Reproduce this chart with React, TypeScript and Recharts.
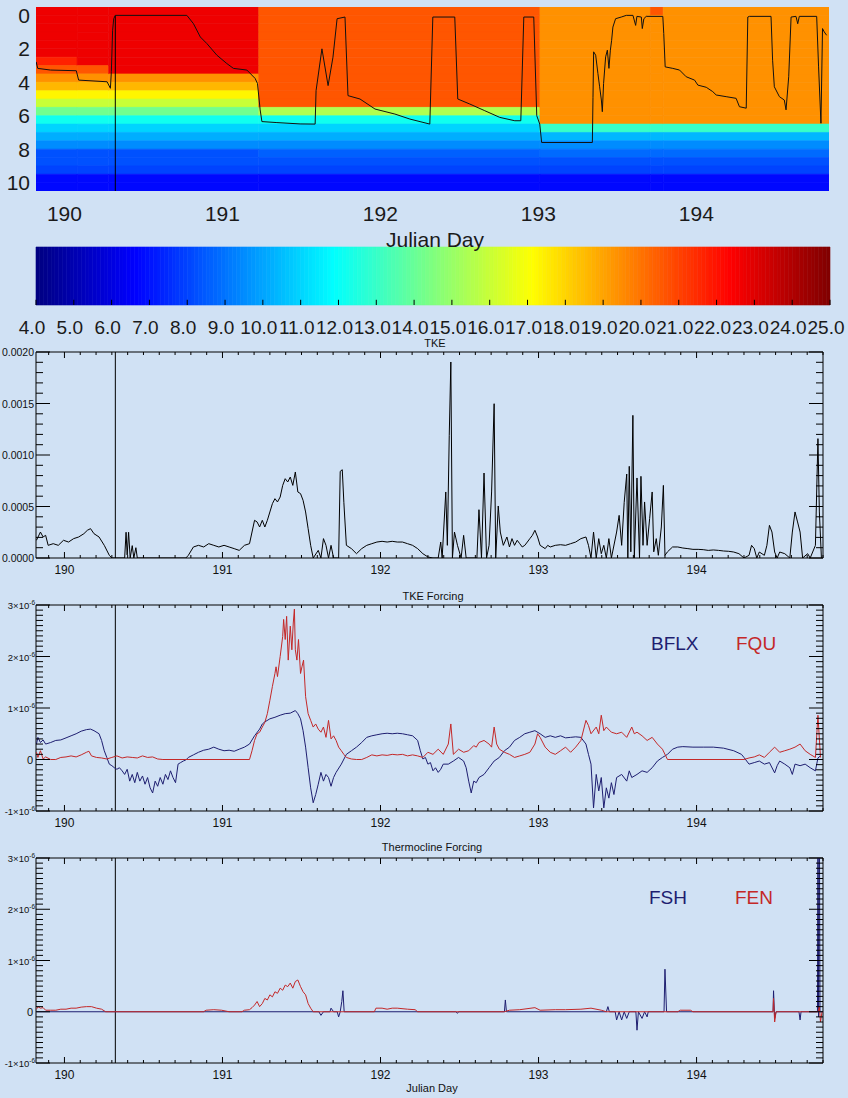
import React from 'react';
import { ComposedChart, LineChart, Line, XAxis, YAxis, ReferenceArea, ReferenceLine } from 'recharts';

const FONT = '"Liberation Sans", Arial, Helvetica, sans-serif';
const BG = '#d0e1f4';
const NAVY = '#1e1e70';
const RED = '#c42828';

// ---------- Top panel: temperature section ----------
const dayTicks = [190, 191, 192, 193, 194];
const depthTicks = [0, 2, 4, 6, 8, 10];
const depthEdges = [-0.5, 0, 0.5, 1, 1.5, 2, 2.5, 3, 3.5, 4, 4.5, 5, 5.5, 6, 6.5, 7, 7.5, 8, 8.5, 9, 9.5, 10, 10.5];
const segStart = [189.82, 190.08, 190.28, 191.23, 193.01, 193.71, 193.79];
const segEnd = [190.08, 190.28, 191.23, 193.01, 193.71, 193.79, 194.84];
const segTemps = [
  [22.7, 22.7, 22.7, 22.7, 22.7, 22.7, 21.7, 20.6, 19.4, 18.6, 17.3, 16.0, 14.2, 12.2, 11.0, 10.2, 9.5, 8.3, 8.3, 8.0, 6.8, 6.8],
  [22.7, 22.7, 22.7, 22.7, 22.7, 22.7, 22.7, 20.6, 19.4, 18.6, 17.3, 16.0, 14.2, 12.2, 11.0, 10.2, 9.5, 8.3, 8.3, 8.0, 6.8, 6.8],
  [22.7, 22.7, 22.7, 22.7, 22.7, 22.7, 22.7, 22.7, 19.4, 18.6, 17.3, 16.0, 14.2, 12.2, 11.0, 10.2, 9.5, 8.3, 8.3, 8.0, 6.8, 6.8],
  [20.6, 20.6, 20.6, 20.6, 20.6, 20.6, 20.6, 20.6, 20.6, 20.6, 20.6, 20.6, 15.5, 12.2, 11.0, 10.2, 9.5, 8.6, 8.3, 8.0, 6.8, 6.8],
  [19.4, 19.4, 19.4, 19.4, 19.4, 19.4, 19.4, 19.4, 19.4, 19.4, 19.4, 19.4, 19.4, 19.4, 13.0, 10.4, 9.5, 8.8, 8.3, 8.0, 6.8, 6.8],
  [20.6, 19.4, 19.4, 19.4, 19.4, 19.4, 19.4, 19.4, 19.4, 19.4, 19.4, 19.4, 19.4, 19.4, 13.0, 10.4, 9.5, 8.8, 8.3, 8.0, 6.8, 6.8],
  [19.4, 19.4, 19.4, 19.4, 19.4, 19.4, 19.4, 19.4, 19.4, 19.4, 19.4, 19.4, 19.4, 19.4, 13.0, 10.4, 9.5, 8.8, 8.3, 8.0, 6.8, 6.8],
];
// mixed layer depth [day, depth]
const mldPairs = [
  [189.821, 2.78], [189.831, 3.17], [189.912, 3.27], [190.075, 3.31], [190.09, 3.87], [190.27, 3.97], [190.291, 4.36], [190.297, 3.37], [190.305, 0.89], [190.312, 0.2], [190.322, 0.0], [190.775, 0.0], [190.817, 0.5], [190.86, 1.29], [190.902, 1.69], [190.965, 2.38], [191.028, 2.88], [191.07, 3.17], [191.155, 3.27], [191.207, 3.77], [191.222, 4.07], [191.239, 5.65], [191.25, 6.35], [191.345, 6.41], [191.492, 6.49], [191.587, 6.5], [191.593, 4.5], [191.63, 2.0], [191.669, 4.2], [191.7, 2.5], [191.726, 0.2], [191.776, 0.1], [191.795, 4.8], [191.871, 5.0], [191.966, 5.6], [192.092, 5.9], [192.187, 6.2], [192.313, 6.5], [192.332, 0.1], [192.471, 0.1], [192.49, 5.0], [192.566, 5.3], [192.661, 5.7], [192.756, 6.1], [192.851, 6.3], [192.889, 6.3], [192.908, 0.1], [192.971, 0.1], [192.99, 6.0], [193.009, 6.5], [193.021, 7.6], [193.342, 7.6], [193.346, 4.9], [193.35, 2.18], [193.363, 2.38], [193.377, 3.47], [193.388, 4.27], [193.399, 5.06], [193.405, 5.76], [193.413, 4.07], [193.426, 2.48], [193.437, 2.08], [193.447, 3.17], [193.456, 2.08], [193.464, 1.49], [193.472, 0.7], [193.489, 0.2], [193.525, 0.1], [193.557, 0], [193.599, 0], [193.616, 0.6], [193.624, 0.06], [193.652, 0.1], [193.658, 0.79], [193.668, 0.2], [193.683, 0.06], [193.788, 0.06], [193.794, 1.09], [193.803, 3.08], [193.851, 3.17], [193.894, 3.27], [193.936, 3.67], [193.989, 3.87], [194.01, 4.17], [194.063, 4.3], [194.104, 4.56], [194.126, 4.76], [194.189, 4.86], [194.252, 4.96], [194.273, 5.46], [194.316, 5.55], [194.326, 0.1], [194.336, 0.06], [194.473, 0.06], [194.483, 2.68], [194.494, 4.27], [194.526, 4.86], [194.557, 5.06], [194.568, 5.65], [194.585, 3.67], [194.6, 0.1], [194.631, 0.06], [194.642, 0.5], [194.652, 0.06], [194.762, 0.06], [194.774, 3.08], [194.789, 6.45], [194.799, 0.79], [194.81, 0.99], [194.825, 1.19],
];
const markerDay = 190.322;

// ---------- Colour bar ----------
const colorTicks = [4, 5, 6, 7, 8, 9, 10, 11, 12, 13, 14, 15, 16, 17, 18, 19, 20, 21, 22, 23, 24, 25];

// ---------- TKE [day, value] ----------
const tkePairs = [
  [189.823, 1.72e-4], [189.848, 2.52e-4], [189.865, 2.04e-4], [189.881, 2.2e-4], [189.897, 1.23e-4], [189.929, 1.39e-4], [189.961, 1.23e-4], [189.994, 1.72e-4], [190.026, 1.55e-4], [190.058, 1.88e-4], [190.09, 2.04e-4], [190.123, 2.36e-4], [190.145, 2.69e-4], [190.165, 2.85e-4], [190.187, 2.36e-4], [190.219, 2.04e-4], [190.252, 1.23e-4], [190.284, 0.26e-4], [190.3, 0], [190.381, 0], [190.39, 2.5e-4], [190.397, 0.3e-4], [190.406, 2.5e-4], [190.416, 0], [190.429, 1.2e-4], [190.439, 0], [190.452, 1.0e-4], [190.461, 0], [190.768, 0], [190.784, 0.26e-4], [190.816, 1.07e-4], [190.848, 1.23e-4], [190.881, 1.07e-4], [190.913, 1.39e-4], [190.945, 1.23e-4], [190.977, 1.07e-4], [191.01, 1.23e-4], [191.042, 1.07e-4], [191.074, 0.91e-4], [191.106, 0.74e-4], [191.139, 1.23e-4], [191.171, 1.39e-4], [191.203, 3.66e-4], [191.219, 3.5e-4], [191.235, 3.01e-4], [191.252, 3.66e-4], [191.268, 3.01e-4], [191.284, 3.66e-4], [191.3, 4.47e-4], [191.316, 5.28e-4], [191.332, 5.76e-4], [191.348, 5.44e-4], [191.365, 5.92e-4], [191.381, 7.05e-4], [191.397, 7.7e-4], [191.413, 7.38e-4], [191.429, 7.86e-4], [191.445, 7.05e-4], [191.461, 8.35e-4], [191.477, 6.41e-4], [191.494, 6.25e-4], [191.51, 5.6e-4], [191.526, 4.47e-4], [191.542, 2.85e-4], [191.558, 1.23e-4], [191.574, 0], [191.606, 0.74e-4], [191.623, 0], [191.639, 1.88e-4], [191.655, 1.23e-4], [191.671, 0], [191.687, 1.23e-4], [191.703, 0], [191.735, 0], [191.745, 8.41e-4], [191.758, 8.57e-4], [191.768, 5.41e-4], [191.784, 1.23e-4], [191.816, 0.91e-4], [191.848, 0.42e-4], [191.881, 0.91e-4], [191.913, 1.23e-4], [191.945, 1.39e-4], [191.977, 1.55e-4], [192.01, 1.62e-4], [192.042, 1.55e-4], [192.074, 1.62e-4], [192.106, 1.55e-4], [192.139, 1.55e-4], [192.171, 1.39e-4], [192.203, 1.23e-4], [192.235, 0.91e-4], [192.268, 0.42e-4], [192.3, 0.1e-4], [192.332, 0], [192.365, 0], [192.381, 1.55e-4], [192.39, 0], [192.413, 6.41e-4], [192.423, 1.23e-4], [192.435, 11.91e-4], [192.445, 19.03e-4], [192.455, 0], [192.468, 2.52e-4], [192.487, 1.23e-4], [192.51, 0], [192.526, 2.2e-4], [192.542, 0], [192.61, 0], [192.623, 4.69e-4], [192.639, 0], [192.655, 8.25e-4], [192.671, 0], [192.687, 1.23e-4], [192.703, 6.41e-4], [192.719, 14.98e-4], [192.729, 0], [192.745, 5.05e-4], [192.758, 2.52e-4], [192.777, 1.23e-4], [192.8, 2.04e-4], [192.816, 1.07e-4], [192.832, 1.88e-4], [192.848, 1.23e-4], [192.865, 1.72e-4], [192.881, 1.39e-4], [192.897, 1.07e-4], [192.913, 1.23e-4], [192.929, 1.55e-4], [192.945, 1.88e-4], [192.961, 2.2e-4], [192.977, 2.69e-4], [192.994, 2.04e-4], [193.01, 1.23e-4], [193.042, 0.91e-4], [193.058, 1.23e-4], [193.074, 1.07e-4], [193.106, 1.23e-4], [193.139, 1.29e-4], [193.171, 1.23e-4], [193.203, 1.39e-4], [193.235, 1.55e-4], [193.268, 1.88e-4], [193.3, 2.04e-4], [193.316, 1.23e-4], [193.332, 0], [193.348, 2.52e-4], [193.365, 0], [193.381, 1.88e-4], [193.397, 0.42e-4], [193.413, 1.23e-4], [193.429, 0], [193.445, 1.88e-4], [193.461, 0], [193.494, 2.52e-4], [193.51, 4.14e-4], [193.526, 1.23e-4], [193.542, 5.4e-4], [193.558, 8.15e-4], [193.565, 0], [193.574, 8.9e-4], [193.584, 0.6e-4], [193.597, 13.85e-4], [193.606, 0], [193.623, 7.77e-4], [193.639, 0], [193.648, 7.93e-4], [193.661, 1.23e-4], [193.671, 5.44e-4], [193.687, 1.23e-4], [193.703, 3.82e-4], [193.719, 6.41e-4], [193.729, 0.6e-4], [193.745, 1.88e-4], [193.758, 0.26e-4], [193.777, 3.01e-4], [193.79, 7.05e-4], [193.8, 0.26e-4], [193.816, 0.6e-4], [193.848, 1.07e-4], [193.881, 1.07e-4], [193.913, 0.97e-4], [193.945, 0.91e-4], [193.977, 0.84e-4], [194.01, 0.84e-4], [194.042, 0.81e-4], [194.074, 0.74e-4], [194.106, 0.78e-4], [194.139, 0.74e-4], [194.171, 0.68e-4], [194.203, 0.65e-4], [194.235, 0.58e-4], [194.268, 0.42e-4], [194.3, 0], [194.332, 0.26e-4], [194.348, 1.23e-4], [194.365, 0.91e-4], [194.381, 0], [194.397, 0.58e-4], [194.429, 0.26e-4], [194.445, 1.23e-4], [194.461, 3.17e-4], [194.477, 2.52e-4], [194.494, 0.58e-4], [194.51, 0], [194.526, 0.58e-4], [194.558, 0.42e-4], [194.59, 0], [194.606, 2.52e-4], [194.623, 4.47e-4], [194.639, 3.5e-4], [194.655, 2.52e-4], [194.671, 0], [194.703, 0.42e-4], [194.719, 0], [194.752, 1.23e-4], [194.768, 11.59e-4], [194.777, 4.47e-4], [194.79, 0],
];

// ---------- TKE forcing [day, value] ----------
const bflxPairs = [
  [189.823, 0.30e-6], [189.832, 0.43e-6], [189.848, 0.33e-6], [189.865, 0.38e-6], [189.881, 0.30e-6], [189.913, 0.33e-6], [189.945, 0.37e-6], [189.977, 0.38e-6], [190.01, 0.42e-6], [190.042, 0.46e-6], [190.074, 0.50e-6], [190.106, 0.55e-6], [190.139, 0.58e-6], [190.165, 0.59e-6], [190.187, 0.56e-6], [190.219, 0.50e-6], [190.235, 0.37e-6], [190.252, 0.17e-6], [190.268, 0.04e-6], [190.284, -0.09e-6], [190.3, -0.12e-6], [190.316, -0.16e-6], [190.332, -0.19e-6], [190.348, -0.16e-6], [190.365, -0.22e-6], [190.381, -0.29e-6], [190.397, -0.19e-6], [190.413, -0.42e-6], [190.429, -0.29e-6], [190.445, -0.45e-6], [190.461, -0.25e-6], [190.477, -0.42e-6], [190.494, -0.32e-6], [190.51, -0.48e-6], [190.526, -0.35e-6], [190.542, -0.55e-6], [190.558, -0.65e-6], [190.574, -0.42e-6], [190.59, -0.52e-6], [190.606, -0.35e-6], [190.623, -0.48e-6], [190.639, -0.29e-6], [190.655, -0.39e-6], [190.671, -0.22e-6], [190.687, -0.35e-6], [190.703, -0.45e-6], [190.719, -0.09e-6], [190.735, -0.06e-6], [190.752, -0.03e-6], [190.768, -0.01e-6], [190.784, 0.04e-6], [190.816, 0.09e-6], [190.848, 0.14e-6], [190.881, 0.18e-6], [190.913, 0.20e-6], [190.945, 0.24e-6], [190.977, 0.20e-6], [191.01, 0.17e-6], [191.042, 0.18e-6], [191.074, 0.16e-6], [191.106, 0.20e-6], [191.139, 0.24e-6], [191.171, 0.30e-6], [191.203, 0.46e-6], [191.235, 0.59e-6], [191.252, 0.69e-6], [191.268, 0.73e-6], [191.3, 0.79e-6], [191.332, 0.82e-6], [191.365, 0.86e-6], [191.397, 0.89e-6], [191.429, 0.90e-6], [191.461, 0.95e-6], [191.477, 0.89e-6], [191.494, 0.79e-6], [191.51, 0.56e-6], [191.526, 0.24e-6], [191.542, -0.16e-6], [191.558, -0.55e-6], [191.574, -0.84e-6], [191.59, -0.68e-6], [191.606, -0.48e-6], [191.623, -0.25e-6], [191.639, -0.42e-6], [191.655, -0.29e-6], [191.671, -0.35e-6], [191.687, -0.52e-6], [191.703, -0.35e-6], [191.719, -0.25e-6], [191.752, -0.09e-6], [191.784, 0.10e-6], [191.816, 0.17e-6], [191.848, 0.24e-6], [191.881, 0.33e-6], [191.913, 0.43e-6], [191.945, 0.46e-6], [191.977, 0.48e-6], [192.01, 0.50e-6], [192.042, 0.51e-6], [192.074, 0.50e-6], [192.106, 0.51e-6], [192.139, 0.50e-6], [192.171, 0.48e-6], [192.203, 0.46e-6], [192.235, 0.37e-6], [192.252, 0.17e-6], [192.268, 0.01e-6], [192.284, 0.04e-6], [192.3, -0.09e-6], [192.316, -0.06e-6], [192.332, -0.22e-6], [192.348, -0.16e-6], [192.365, -0.25e-6], [192.381, -0.19e-6], [192.397, -0.09e-6], [192.429, -0.09e-6], [192.461, -0.03e-6], [192.494, 0.04e-6], [192.526, -0.03e-6], [192.542, -0.16e-6], [192.558, -0.42e-6], [192.574, -0.65e-6], [192.59, -0.42e-6], [192.606, -0.45e-6], [192.623, -0.35e-6], [192.655, -0.29e-6], [192.687, -0.16e-6], [192.719, -0.03e-6], [192.752, 0.04e-6], [192.784, 0.17e-6], [192.816, 0.24e-6], [192.848, 0.37e-6], [192.881, 0.43e-6], [192.913, 0.50e-6], [192.945, 0.53e-6], [192.977, 0.56e-6], [193.01, 0.50e-6], [193.042, 0.43e-6], [193.074, 0.46e-6], [193.106, 0.43e-6], [193.139, 0.46e-6], [193.171, 0.42e-6], [193.203, 0.43e-6], [193.235, 0.44e-6], [193.268, 0.43e-6], [193.3, 0.30e-6], [193.316, 0.10e-6], [193.332, -0.09e-6], [193.348, -0.94e-6], [193.365, -0.29e-6], [193.381, -0.61e-6], [193.397, -0.35e-6], [193.413, -0.94e-6], [193.429, -0.55e-6], [193.445, -0.75e-6], [193.461, -0.45e-6], [193.477, -0.68e-6], [193.494, -0.35e-6], [193.526, -0.29e-6], [193.558, -0.42e-6], [193.574, -0.22e-6], [193.59, -0.35e-6], [193.623, -0.29e-6], [193.655, -0.22e-6], [193.687, -0.25e-6], [193.719, -0.16e-6], [193.752, -0.03e-6], [193.784, 0.04e-6], [193.816, 0.10e-6], [193.848, 0.20e-6], [193.881, 0.24e-6], [193.913, 0.25e-6], [193.977, 0.24e-6], [194.042, 0.24e-6], [194.106, 0.24e-6], [194.171, 0.22e-6], [194.235, 0.17e-6], [194.284, 0.10e-6], [194.3, 0.04e-6], [194.332, -0.09e-6], [194.365, -0.06e-6], [194.397, -0.03e-6], [194.429, -0.09e-6], [194.461, -0.06e-6], [194.494, -0.26e-6], [194.51, -0.12e-6], [194.526, -0.03e-6], [194.558, -0.09e-6], [194.59, -0.16e-6], [194.606, -0.29e-6], [194.623, -0.09e-6], [194.655, -0.12e-6], [194.687, -0.09e-6], [194.719, -0.16e-6], [194.752, -0.22e-6], [194.768, 0.03e-6], [194.784, 0.07e-6],
];
const fquPairs = [
  [189.823, 0.14e-6], [189.832, 0.04e-6], [189.848, 0.17e-6], [189.865, 0.01e-6], [189.881, 0.05e-6], [189.913, 0.0], [189.945, 0.0], [189.977, 0.04e-6], [190.01, 0.05e-6], [190.042, 0.07e-6], [190.074, 0.05e-6], [190.106, 0.09e-6], [190.139, 0.14e-6], [190.155, 0.16e-6], [190.171, 0.07e-6], [190.203, 0.04e-6], [190.235, 0.03e-6], [190.268, 0.01e-6], [190.3, 0.04e-6], [190.332, 0.07e-6], [190.365, 0.03e-6], [190.397, 0.05e-6], [190.429, 0.04e-6], [190.461, 0.03e-6], [190.494, 0.07e-6], [190.526, 0.04e-6], [190.558, 0.05e-6], [190.59, 0.01e-6], [190.623, 0.0], [191.171, 0.0], [191.187, 0.17e-6], [191.203, 0.37e-6], [191.219, 0.50e-6], [191.235, 0.53e-6], [191.252, 0.63e-6], [191.268, 0.72e-6], [191.284, 0.89e-6], [191.3, 1.15e-6], [191.316, 1.42e-6], [191.332, 1.67e-6], [191.339, 1.80e-6], [191.348, 1.61e-6], [191.365, 2.00e-6], [191.381, 2.39e-6], [191.387, 2.72e-6], [191.397, 2.33e-6], [191.406, 2.78e-6], [191.416, 1.93e-6], [191.429, 2.59e-6], [191.439, 2.13e-6], [191.448, 2.65e-6], [191.455, 2.92e-6], [191.461, 2.13e-6], [191.471, 1.93e-6], [191.481, 2.33e-6], [191.494, 1.67e-6], [191.503, 1.80e-6], [191.513, 1.93e-6], [191.526, 1.22e-6], [191.542, 0.89e-6], [191.558, 0.76e-6], [191.574, 0.63e-6], [191.59, 0.69e-6], [191.606, 0.59e-6], [191.623, 0.53e-6], [191.639, 0.63e-6], [191.655, 0.43e-6], [191.671, 0.76e-6], [191.687, 0.40e-6], [191.703, 0.46e-6], [191.719, 0.37e-6], [191.735, 0.24e-6], [191.752, 0.17e-6], [191.768, 0.10e-6], [191.784, 0.04e-6], [191.816, 0.01e-6], [191.848, 0.0], [191.881, 0.0], [191.913, 0.04e-6], [191.945, 0.09e-6], [191.977, 0.07e-6], [192.01, 0.09e-6], [192.042, 0.08e-6], [192.074, 0.10e-6], [192.106, 0.09e-6], [192.139, 0.10e-6], [192.171, 0.07e-6], [192.203, 0.09e-6], [192.235, 0.07e-6], [192.268, 0.04e-6], [192.3, 0.14e-6], [192.332, 0.10e-6], [192.365, 0.20e-6], [192.397, 0.10e-6], [192.429, 0.30e-6], [192.445, 0.69e-6], [192.461, 0.10e-6], [192.494, 0.20e-6], [192.526, 0.14e-6], [192.558, 0.17e-6], [192.59, 0.27e-6], [192.606, 0.24e-6], [192.623, 0.33e-6], [192.655, 0.37e-6], [192.687, 0.30e-6], [192.703, 0.24e-6], [192.719, 0.63e-6], [192.735, 0.30e-6], [192.752, 0.20e-6], [192.784, 0.14e-6], [192.816, 0.10e-6], [192.848, 0.04e-6], [192.881, 0.07e-6], [192.913, 0.10e-6], [192.945, 0.14e-6], [192.977, 0.30e-6], [192.994, 0.50e-6], [193.01, 0.43e-6], [193.042, 0.24e-6], [193.074, 0.14e-6], [193.106, 0.10e-6], [193.139, 0.17e-6], [193.171, 0.24e-6], [193.203, 0.14e-6], [193.235, 0.24e-6], [193.268, 0.37e-6], [193.3, 0.76e-6], [193.316, 0.66e-6], [193.332, 0.50e-6], [193.365, 0.63e-6], [193.381, 0.50e-6], [193.397, 0.86e-6], [193.413, 0.56e-6], [193.429, 0.63e-6], [193.461, 0.53e-6], [193.494, 0.50e-6], [193.526, 0.53e-6], [193.558, 0.43e-6], [193.59, 0.63e-6], [193.606, 0.50e-6], [193.623, 0.53e-6], [193.655, 0.46e-6], [193.687, 0.37e-6], [193.719, 0.43e-6], [193.752, 0.30e-6], [193.784, 0.20e-6], [193.816, 0.0], [194.3, 0.0], [194.332, 0.03e-6], [194.365, 0.05e-6], [194.397, 0.09e-6], [194.429, 0.04e-6], [194.461, 0.14e-6], [194.494, 0.24e-6], [194.526, 0.14e-6], [194.558, 0.17e-6], [194.59, 0.20e-6], [194.623, 0.24e-6], [194.655, 0.30e-6], [194.687, 0.17e-6], [194.719, 0.10e-6], [194.752, 0.04e-6], [194.768, 0.86e-6], [194.784, 0.04e-6],
];

// ---------- Thermocline forcing [day, value] ----------
const fshPairs = [
  [189.823, 0], [191.61, 0], [191.623, -0.07e-6], [191.639, 0], [191.68, 0], [191.687, 0.07e-6], [191.703, 0], [191.726, 0], [191.735, -0.10e-6], [191.745, 0], [191.755, 0.20e-6], [191.762, 0.41e-6], [191.77, 0], [192.477, 0], [192.487, -0.03e-6], [192.494, 0], [192.784, 0], [192.79, 0.23e-6], [192.797, 0], [193.429, 0], [193.439, 0.10e-6], [193.448, 0], [193.485, 0], [193.494, -0.16e-6], [193.51, 0], [193.526, -0.16e-6], [193.542, 0], [193.558, -0.13e-6], [193.574, 0], [193.616, 0], [193.623, -0.36e-6], [193.632, 0], [193.655, -0.13e-6], [193.671, 0], [193.687, -0.10e-6], [193.694, 0], [193.794, 0], [193.8, 0.83e-6], [193.81, 0], [194.484, 0], [194.487, 0.41e-6], [194.494, -0.13e-6], [194.503, 0], [194.648, 0], [194.655, -0.16e-6], [194.661, 0], [194.765, 0], [194.768, 4.0e-6], [194.772, -0.10e-6], [194.777, 4.0e-6], [194.781, 0], [194.8, 0],
];
const fenPairs = [
  [189.823, 0.05e-6], [189.832, 0.10e-6], [189.848, 0.07e-6], [189.865, 0.08e-6], [189.881, 0.03e-6], [189.913, 0.03e-6], [189.945, 0.03e-6], [189.977, 0.05e-6], [190.01, 0.05e-6], [190.042, 0.07e-6], [190.074, 0.07e-6], [190.106, 0.09e-6], [190.139, 0.10e-6], [190.171, 0.10e-6], [190.203, 0.07e-6], [190.235, 0.05e-6], [190.261, 0], [190.88, 0], [190.897, 0.03e-6], [190.945, 0.04e-6], [190.994, 0.03e-6], [191.042, 0], [191.123, 0], [191.139, 0.03e-6], [191.171, 0.04e-6], [191.187, 0.08e-6], [191.203, 0.13e-6], [191.219, 0.20e-6], [191.235, 0.10e-6], [191.252, 0.16e-6], [191.268, 0.26e-6], [191.284, 0.23e-6], [191.3, 0.33e-6], [191.316, 0.29e-6], [191.332, 0.39e-6], [191.348, 0.36e-6], [191.365, 0.46e-6], [191.381, 0.42e-6], [191.397, 0.52e-6], [191.413, 0.49e-6], [191.429, 0.56e-6], [191.445, 0.46e-6], [191.461, 0.59e-6], [191.477, 0.62e-6], [191.494, 0.49e-6], [191.51, 0.39e-6], [191.526, 0.33e-6], [191.542, 0.16e-6], [191.558, 0.07e-6], [191.574, 0], [191.961, 0], [191.971, 0.07e-6], [192.01, 0.07e-6], [192.042, 0.05e-6], [192.074, 0.07e-6], [192.106, 0.07e-6], [192.171, 0.05e-6], [192.219, 0.04e-6], [192.235, 0], [192.784, 0], [192.816, 0.03e-6], [192.881, 0.04e-6], [192.977, 0.08e-6], [193.01, 0.03e-6], [193.106, 0.04e-6], [193.171, 0.04e-6], [193.268, 0.05e-6], [193.332, 0.07e-6], [193.397, 0.03e-6], [193.429, 0], [193.881, 0], [193.897, 0.03e-6], [193.961, 0.03e-6], [193.977, 0], [194.484, 0], [194.487, 0.26e-6], [194.494, -0.20e-6], [194.503, 0], [194.768, 0], [194.777, 0.10e-6], [194.784, -0.20e-6], [194.794, 0],
];

// ---------- helpers ----------
const toObj = (pairs: number[][]) => pairs.map(([day, v]) => ({ day, v }));
const mldData = mldPairs.map(([day, depth]) => ({ day, depth }));
const tkeData = toObj(tkePairs);
const bflxData = toObj(bflxPairs);
const fquData = toObj(fquPairs);
const fshData = toObj(fshPairs);
const fenData = toObj(fenPairs);

function jet(t: number): string {
  const c = (v: number) => Math.round(255 * Math.max(0, Math.min(1, v)));
  return `rgb(${c(1.5 - Math.abs(4 * t - 3))},${c(1.5 - Math.abs(4 * t - 2))},${c(1.5 - Math.abs(4 * t - 1))})`;
}
const tempColor = (T: number) => jet((T - 4) / 21);

const X_DOMAIN: [number, number] = [189.82, 194.8];
const minorDays = Array.from({ length: 50 }, (_, i) => Math.round((189.9 + i * 0.1) * 10) / 10);
const tkeTicks = Array.from({ length: 21 }, (_, i) => i * 0.0001);
const forceTicks = Array.from({ length: 41 }, (_, i) => (i - 10) * 1e-7);

const PLOT_W = 787;

const makeXTick = (plotH: number) => (props: any) => {
  const { x, y, payload } = props;
  const v = payload.value;
  const major = Math.abs(v - Math.round(v)) < 1e-6;
  const len = major ? 6 : 3;
  return (
    <g>
      <line x1={x} x2={x} y1={y} y2={y - len} stroke="#000" strokeWidth={1} />
      <line x1={x} x2={x} y1={y - plotH} y2={y - plotH + len} stroke="#000" strokeWidth={1} />
      {major && (
        <text x={x} y={y + 16} textAnchor="middle" fontSize={12} fontFamily={FONT} fill="#111">
          {Math.round(v)}
        </text>
      )}
    </g>
  );
};

const TkeYTick = (props: any) => {
  const { x, y, payload } = props;
  const k = Math.round(payload.value / 0.0001);
  const major = k % 5 === 0;
  const len = major ? 14 : 7;
  return (
    <g>
      <line x1={x} x2={x + len} y1={y} y2={y} stroke="#000" />
      <line x1={x + PLOT_W} x2={x + PLOT_W - len} y1={y} y2={y} stroke="#000" />
      {major && (
        <text x={x - 2} y={y + 4} textAnchor="end" fontSize={10.5} fontFamily={FONT} fill="#111">
          {(k * 0.0001).toFixed(4)}
        </text>
      )}
    </g>
  );
};

const ForceYTick = (props: any) => {
  const { x, y, payload } = props;
  const k = Math.round(payload.value * 1e7);
  const major = k % 10 === 0;
  const n = Math.round(k / 10);
  const len = major ? 14 : 7;
  return (
    <g>
      <line x1={x} x2={x + len} y1={y} y2={y} stroke="#000" />
      <line x1={x + PLOT_W} x2={x + PLOT_W - len} y1={y} y2={y} stroke="#000" />
      {major && (n === 0 ? (
        <text x={x - 3} y={y + 4} textAnchor="end" fontSize={11} fontFamily={FONT} fill="#111">0</text>
      ) : (
        <text x={x - 1} y={y + 4} textAnchor="end" fontSize={9.5} fontFamily={FONT} fill="#111">
          {n}×10<tspan dy={-4} fontSize={6.5}>-6</tspan>
        </text>
      ))}
    </g>
  );
};

const TopXTick = (props: any) => {
  const { x, y, payload } = props;
  return (
    <text x={x} y={y + 30} textAnchor="middle" fontSize={21} fontFamily={FONT} fill="#1a1a1a">
      {payload.value}
    </text>
  );
};
const TopYTick = (props: any) => {
  const { x, y, payload } = props;
  return (
    <text x={x - 6} y={y + 7.5} textAnchor="end" fontSize={21} fontFamily={FONT} fill="#1a1a1a">
      {payload.value}
    </text>
  );
};
const CbTick = (props: any) => {
  const { x, y, payload } = props;
  return (
    <text x={x - 4} y={y + 29} textAnchor="middle" fontSize={19} fontFamily={FONT} fill="#1a1a1a">
      {payload.value.toFixed(1)}
    </text>
  );
};

const cbSlices = Array.from({ length: 210 }, (_, i) => Math.round((4 + i * 0.1) * 10) / 10);

function ForcingPanel({ top, plotH, a, b, aColor, bColor, yTickComp }: any) {
  return (
    <div style={{ position: 'absolute', left: 0, top }}>
      <LineChart width={848} height={20 + plotH + 20} margin={{ top: 20, right: 25, bottom: 0, left: 0 }}>
        <XAxis type="number" dataKey="day" domain={X_DOMAIN} allowDataOverflow ticks={minorDays} interval={0}
          height={20} axisLine={false} tickLine={false} tickSize={0} tickMargin={0} tick={makeXTick(plotH)} />
        <YAxis type="number" domain={[-1e-6, 3e-6]} allowDataOverflow ticks={forceTicks} interval={0}
          width={36} axisLine={false} tickLine={false} tickSize={0} tickMargin={0} tick={yTickComp} />
        <ReferenceArea x1={X_DOMAIN[0]} x2={X_DOMAIN[1]} y1={-1e-6} y2={3e-6} fill="none" stroke="#000" strokeWidth={1} />
        <ReferenceLine x={markerDay} stroke="#000" strokeWidth={1} />
        <Line data={a} dataKey="v" stroke={aColor} strokeWidth={1} dot={false} activeDot={false} isAnimationActive={false} />
        <Line data={b} dataKey="v" stroke={bColor} strokeWidth={1} dot={false} activeDot={false} isAnimationActive={false} />
      </LineChart>
    </div>
  );
}

export default function App() {
  const cells: React.ReactNode[] = [];
  segTemps.forEach((temps, s) => {
    temps.forEach((T, b) => {
      const col = tempColor(T);
      cells.push(
        <ReferenceArea key={`c${s}-${b}`} x1={segStart[s]} x2={segEnd[s]} y1={depthEdges[b]} y2={depthEdges[b + 1]}
          fill={col} fillOpacity={1} stroke={col} strokeWidth={0.6} ifOverflow="hidden" />
      );
    });
  });

  return (
    <div style={{ position: 'relative', width: 848, height: 1098, background: BG, overflow: 'hidden', fontFamily: FONT }}>
      <style>{'html,body{margin:0;padding:0;overflow:hidden;}'}</style>

      {/* Top: temperature section */}
      <div style={{ position: 'absolute', left: 0, top: 0 }}>
        <ComposedChart width={848} height={230} margin={{ top: 7, right: 19, bottom: 0, left: 0 }}>
          <XAxis type="number" dataKey="day" domain={[189.82, 194.84]} allowDataOverflow ticks={dayTicks} interval={0}
            height={39} axisLine={false} tickLine={false} tickSize={0} tickMargin={0} tick={TopXTick} />
          <YAxis type="number" domain={[-0.5, 10.5]} reversed allowDataOverflow ticks={depthTicks} interval={0}
            width={36} axisLine={false} tickLine={false} tickSize={0} tickMargin={0} tick={TopYTick} />
          {cells}
          <ReferenceLine segment={[{ x: markerDay, y: 0 }, { x: markerDay, y: 10.5 }]} stroke="#000" strokeWidth={1} />
          <Line data={mldData} dataKey="depth" stroke="#111" strokeWidth={1} dot={false} activeDot={false} isAnimationActive={false} />
        </ComposedChart>
      </div>

      {/* Colour bar */}
      <div style={{ position: 'absolute', left: 0, top: 240 }}>
        <ComposedChart width={848} height={100} data={colorTicks.map((t) => ({ t, y: 0.5 }))} margin={{ top: 7, right: 18, bottom: 0, left: 0 }}>
          <XAxis type="number" dataKey="t" domain={[4, 25]} allowDataOverflow ticks={colorTicks} interval={0} height={35}
            axisLine={false} tickLine={false} tickSize={0} tickMargin={0} tick={CbTick} />
          <YAxis type="number" dataKey="y" domain={[0, 1]} allowDataOverflow width={36} tick={false} axisLine={false} tickLine={false} />
          {cbSlices.map((t) => {
            const col = tempColor(t + 0.05);
            return <ReferenceArea key={`cb${t}`} x1={t} x2={Math.min(25, t + 0.1)} y1={0} y2={1} fill={col} fillOpacity={1} stroke={col} strokeWidth={0.6} ifOverflow="visible" />;
          })}
          {colorTicks.map((t) => (
            <ReferenceLine key={`cbt${t}`} segment={[{ x: t, y: 0 }, { x: t, y: 0.09 }]} stroke="#000" strokeWidth={1} ifOverflow="visible" />
          ))}
          <Line dataKey="y" stroke="none" dot={false} activeDot={false} isAnimationActive={false} />
        </ComposedChart>
      </div>

      {/* TKE */}
      <div style={{ position: 'absolute', left: 0, top: 332 }}>
        <LineChart width={848} height={246} margin={{ top: 20, right: 25, bottom: 0, left: 0 }}>
          <XAxis type="number" dataKey="day" domain={X_DOMAIN} allowDataOverflow ticks={minorDays} interval={0}
            height={20} axisLine={false} tickLine={false} tickSize={0} tickMargin={0} tick={makeXTick(206)} />
          <YAxis type="number" domain={[0, 0.002]} allowDataOverflow ticks={tkeTicks} interval={0}
            width={36} axisLine={false} tickLine={false} tickSize={0} tickMargin={0} tick={TkeYTick} />
          <ReferenceArea x1={X_DOMAIN[0]} x2={X_DOMAIN[1]} y1={0} y2={0.002} fill="none" stroke="#000" strokeWidth={1} />
          <ReferenceLine x={markerDay} stroke="#000" strokeWidth={1} />
          <Line data={tkeData} dataKey="v" stroke="#000" strokeWidth={1} dot={false} activeDot={false} isAnimationActive={false} />
        </LineChart>
      </div>

      <ForcingPanel top={585} plotH={206} a={bflxData} b={fquData} aColor={NAVY} bColor={RED} yTickComp={ForceYTick} />
      <ForcingPanel top={838} plotH={205} a={fshData} b={fenData} aColor={NAVY} bColor={RED} yTickComp={ForceYTick} />

      {/* Static texts */}
      <svg width={848} height={1098} style={{ position: 'absolute', left: 0, top: 0, pointerEvents: 'none' }}>
        <g fontFamily={FONT}>
          <text x={435} y={247} textAnchor="middle" fontSize={21} fill="#1a1a1a">Julian Day</text>
          <text x={435} y={347} textAnchor="middle" fontSize={11} fill="#111">TKE</text>
          <text x={433} y={600} textAnchor="middle" fontSize={11} fill="#111">TKE Forcing</text>
          <text x={432} y={851} textAnchor="middle" fontSize={11} fill="#111">Thermocline Forcing</text>
          <text x={432} y={1092} textAnchor="middle" fontSize={11} fill="#111">Julian Day</text>
          <text x={651} y={650} fontSize={19} fill={NAVY}>BFLX</text>
          <text x={736} y={650} fontSize={19} fill={RED}>FQU</text>
          <text x={649} y={904} fontSize={19} fill={NAVY}>FSH</text>
          <text x={735} y={904} fontSize={19} fill={RED}>FEN</text>
        </g>
      </svg>
    </div>
  );
}
